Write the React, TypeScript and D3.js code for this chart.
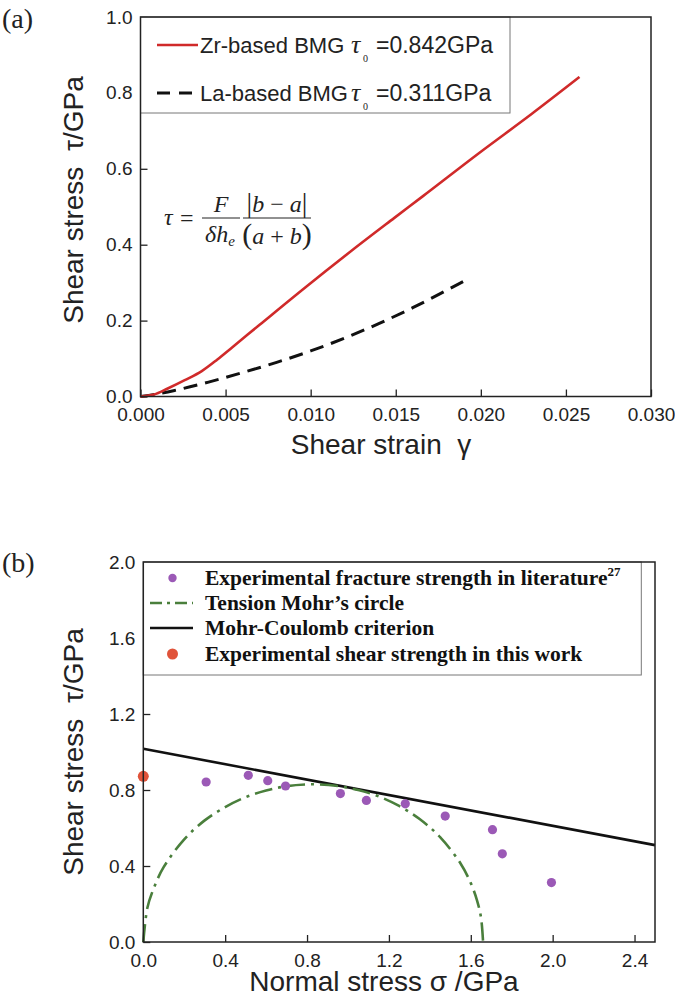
import React, { useEffect, useRef } from 'react';
import * as d3 from 'd3';

// ---- panel (a): shear stress vs shear strain ----
const zrCurve: [number, number][] = [
  [0, 0], [0.0008, 0.005], [0.0016, 0.021], [0.0026, 0.043], [0.0036, 0.067],
  [0.0045, 0.097], [0.0054, 0.13], [0.007, 0.189], [0.0097, 0.288], [0.0124, 0.384],
  [0.0149, 0.47], [0.0166, 0.528], [0.02, 0.645], [0.023, 0.745], [0.0258, 0.842],
];
const laCurve: [number, number][] = [
  [0, 0], [0.001, 0.007], [0.002, 0.016], [0.004, 0.038], [0.006, 0.063],
  [0.008, 0.09], [0.01, 0.12], [0.012, 0.154], [0.014, 0.192], [0.016, 0.234],
  [0.018, 0.28], [0.0193, 0.311],
];
const strainTicks = [0, 0.005, 0.01, 0.015, 0.02, 0.025, 0.03];
const stressTicksA = [0, 0.2, 0.4, 0.6, 0.8, 1.0];

// ---- panel (b): Mohr's circle and Mohr-Coulomb criterion ----
const literaturePts: [number, number][] = [
  [0.307, 0.842], [0.513, 0.877], [0.608, 0.849], [0.695, 0.821], [0.963, 0.781],
  [1.09, 0.745], [1.28, 0.727], [1.475, 0.663], [1.706, 0.591], [1.754, 0.464],
  [1.994, 0.313],
];
const thisWorkPts: [number, number][] = [[0, 0.872]];
const mohrCircle: [number, number][] = [
  [0, 0], [0.02, 0.18], [0.05, 0.28], [0.1, 0.395], [0.2, 0.54], [0.3, 0.64],
  [0.4, 0.71], [0.5, 0.762], [0.6, 0.797], [0.7, 0.82], [0.83, 0.83], [0.95, 0.821],
  [1.05, 0.8], [1.15, 0.766], [1.25, 0.716], [1.35, 0.647], [1.45, 0.552],
  [1.55, 0.413], [1.6, 0.31], [1.63, 0.221], [1.65, 0.128], [1.66, 0],
];
const mohrCoulomb: [number, number][] = [[0, 1.017], [2.5, 0.51]];
const normalTicks = [0, 0.4, 0.8, 1.2, 1.6, 2.0, 2.4];
const stressTicksB = [0, 0.4, 0.8, 1.2, 1.6, 2.0];

const SANS = 'Liberation Sans, Arial, sans-serif';
const SERIF = 'Liberation Serif, Times New Roman, serif';

export default function App() {
  const ref = useRef<SVGSVGElement>(null);

  useEffect(() => {
    const svg = d3.select(ref.current);
    svg.selectAll('*').remove();

    // draws inward ticks + labels, returns plot group
    function drawAxes(x, y, xt, yt, xfmt, yfmt) {
      const [x0] = x.range();
      const [y0] = y.range();
      const g = svg.append('g');
      const xa = g.append('g')
        .attr('transform', `translate(0,${y0})`)
        .call(d3.axisBottom(x).tickValues(xt).tickFormat(xfmt).tickSizeInner(-7).tickSizeOuter(0).tickPadding(11.5));
      const ya = g.append('g')
        .attr('transform', `translate(${x0},0)`)
        .call(d3.axisLeft(y).tickValues(yt).tickFormat(yfmt).tickSizeInner(-7).tickSizeOuter(0).tickPadding(8));
      [xa, ya].forEach(a => {
        a.select('.domain').remove();
        a.selectAll('line').attr('stroke', '#222').attr('stroke-width', 1.3);
        a.selectAll('text').attr('font-family', SANS).attr('font-size', 19).attr('fill', '#222');
      });
      return g;
    }
    function frame(g, x, y) {
      const [x0, x1] = x.range();
      const [y0, y1] = y.range();
      g.append('rect')
        .attr('x', x0).attr('y', y1).attr('width', x1 - x0).attr('height', y0 - y1)
        .attr('fill', 'none').attr('stroke', '#222').attr('stroke-width', 1.5);
    }

    // ================= panel (a) =================
    const xA = d3.scaleLinear().domain([0, 0.03]).range([140.5, 651]);
    const yA = d3.scaleLinear().domain([0, 1.0]).range([396.5, 17]);
    const gA = drawAxes(xA, yA, strainTicks, stressTicksA, d3.format('.3f'), d3.format('.1f'));

    const lineA = d3.line<[number, number]>().x(d => xA(d[0])).y(d => yA(d[1])).curve(d3.curveMonotoneX);
    gA.append('path').datum(laCurve).attr('d', lineA)
      .attr('fill', 'none').attr('stroke', '#111').attr('stroke-width', 3).attr('stroke-dasharray', '14 8');
    gA.append('path').datum(zrCurve).attr('d', lineA)
      .attr('fill', 'none').attr('stroke', '#d02a2a').attr('stroke-width', 2.6);

    // legend (a)
    const legA = gA.append('g');
    legA.append('rect').attr('x', 140.5).attr('y', 17).attr('width', 369.5).attr('height', 96)
      .attr('fill', '#fff').attr('stroke', '#777').attr('stroke-width', 1);
    frame(gA, xA, yA);
    const rowsA = [
      { y: 45, color: '#d02a2a', dash: null, name: 'Zr-based BMG', val: '=0.842GPa' },
      { y: 93, color: '#111', dash: '13 9', name: 'La-based BMG', val: '=0.311GPa' },
    ];
    rowsA.forEach(r => {
      legA.append('line').attr('x1', 157).attr('x2', 198).attr('y1', r.y).attr('y2', r.y)
        .attr('stroke', r.color).attr('stroke-width', r.dash ? 3 : 2.6)
        .attr('stroke-dasharray', r.dash);
      legA.append('text').attr('x', 200).attr('y', r.y + 8)
        .attr('font-family', SANS).attr('font-size', 22).attr('fill', '#222').text(r.name);
      legA.append('text').attr('x', 351).attr('y', r.y + 8)
        .attr('font-family', SERIF).attr('font-style', 'italic').attr('font-size', 26).attr('fill', '#222').text('τ');
      legA.append('text').attr('x', 363).attr('y', r.y + 17)
        .attr('font-family', SERIF).attr('font-size', 10).attr('fill', '#222').text('0');
      legA.append('text').attr('x', 376).attr('y', r.y + 8)
        .attr('font-family', SANS).attr('font-size', 23).attr('fill', '#222').text(r.val);
    });

    // formula
    const fm = gA.append('g').attr('font-family', SERIF).attr('font-size', 24).attr('fill', '#222');
    fm.append('text').attr('x', 164).attr('y', 225).attr('font-style', 'italic').text('τ');
    fm.append('text').attr('x', 180).attr('y', 226).text('=');
    fm.append('line').attr('x1', 202).attr('x2', 240).attr('y1', 218).attr('y2', 218).attr('stroke', '#222').attr('stroke-width', 1);
    fm.append('line').attr('x1', 243).attr('x2', 311).attr('y1', 218).attr('y2', 218).attr('stroke', '#222').attr('stroke-width', 1);
    fm.append('text').attr('x', 221).attr('y', 212).attr('text-anchor', 'middle').attr('font-style', 'italic').text('F');
    const den = fm.append('text').attr('x', 205).attr('y', 242).attr('font-style', 'italic');
    den.append('tspan').text('δh');
    den.append('tspan').attr('font-size', 15).attr('dy', 4).text('e');
    const num2 = fm.append('text').attr('x', 277).attr('y', 212).attr('text-anchor', 'middle');
    num2.append('tspan').attr('font-size', 28).text('|');
    num2.append('tspan').attr('font-style', 'italic').text('b');
    num2.append('tspan').text(' − ');
    num2.append('tspan').attr('font-style', 'italic').text('a');
    num2.append('tspan').attr('font-size', 28).text('|');
    const den2 = fm.append('text').attr('x', 277).attr('y', 244).attr('text-anchor', 'middle');
    den2.append('tspan').attr('font-size', 30).text('(');
    den2.append('tspan').attr('font-style', 'italic').text('a');
    den2.append('tspan').text(' + ');
    den2.append('tspan').attr('font-style', 'italic').text('b');
    den2.append('tspan').attr('font-size', 30).text(')');

    // ================= panel (b) =================
    const xB = d3.scaleLinear().domain([0, 2.5]).range([143.3, 655]);
    const yB = d3.scaleLinear().domain([0, 2.0]).range([942, 562]);
    const gB = drawAxes(xB, yB, normalTicks, stressTicksB, d3.format('.1f'), d3.format('.1f'));

    const lineB = d3.line<[number, number]>().x(d => xB(d[0])).y(d => yB(d[1]));
    gB.append('path').datum(mohrCoulomb).attr('d', lineB)
      .attr('fill', 'none').attr('stroke', '#111').attr('stroke-width', 2.6);
    gB.append('path').datum(mohrCircle).attr('d', lineB.curve(d3.curveCatmullRom))
      .attr('fill', 'none').attr('stroke', '#4a7f3c').attr('stroke-width', 2.6)
      .attr('stroke-dasharray', '18 6 3 6');
    gB.selectAll('.lit').data(literaturePts).join('circle')
      .attr('cx', d => xB(d[0])).attr('cy', d => yB(d[1])).attr('r', 4.6).attr('fill', '#9b59b6');
    gB.selectAll('.tw').data(thisWorkPts).join('circle')
      .attr('cx', d => xB(d[0])).attr('cy', d => yB(d[1])).attr('r', 5.5).attr('fill', '#e0533a');

    // legend (b)
    const legB = gB.append('g');
    legB.append('rect').attr('x', 143.3).attr('y', 562).attr('width', 498).attr('height', 113)
      .attr('fill', '#fff').attr('stroke', '#777').attr('stroke-width', 1);
    frame(gB, xB, yB);
    const rowsB = [
      { y: 578, kind: 'dot', color: '#9b59b6', label: 'Experimental fracture strength in literature', sup: '27' },
      { y: 603, kind: 'dashdot', color: '#4a7f3c', label: 'Tension Mohr’s circle' },
      { y: 628, kind: 'line', color: '#111', label: 'Mohr-Coulomb criterion' },
      { y: 654, kind: 'dot', color: '#e0533a', label: 'Experimental shear strength in this work' },
    ];
    rowsB.forEach((r, i) => {
      if (r.kind === 'dot') {
        legB.append('circle').attr('cx', 172.5).attr('cy', r.y).attr('r', i === 0 ? 4.2 : 5.5).attr('fill', r.color);
      } else {
        legB.append('line').attr('x1', 150).attr('x2', 193).attr('y1', r.y).attr('y2', r.y)
          .attr('stroke', r.color).attr('stroke-width', 2.6)
          .attr('stroke-dasharray', r.kind === 'dashdot' ? '12 5 3 5' : null);
      }
      const t = legB.append('text').attr('x', 205).attr('y', r.y + 7)
        .attr('font-family', SERIF).attr('font-weight', 'bold').attr('font-size', 21.5).attr('fill', '#111');
      t.append('tspan').text(r.label);
      if (r.sup) t.append('tspan').attr('font-size', 13).attr('dy', -9).text(r.sup);
    });

    // ---- titles ----
    const title = (x, y, txt, rot, size) => svg.append('text')
      .attr('transform', `translate(${x},${y}) rotate(${rot})`)
      .attr('text-anchor', 'middle').attr('font-family', SANS).attr('font-size', size).attr('fill', '#222')
      .attr('xml:space', 'preserve').text(txt);
    title(83, 200, 'Shear stress  τ/GPa', -90, 28);
    title(83, 752, 'Shear stress  τ/GPa', -90, 28);
    title(381, 454, 'Shear strain  γ', 0, 28);
    title(384, 991, 'Normal stress σ /GPa', 0, 28);

    svg.append('text').attr('x', 2).attr('y', 28).attr('font-family', SERIF).attr('font-size', 28).attr('fill', '#222').text('(a)');
    svg.append('text').attr('x', 2).attr('y', 572).attr('font-family', SERIF).attr('font-size', 28).attr('fill', '#222').text('(b)');
  }, []);

  return (
    <svg ref={ref} width={675} height={999}
      style={{ position: 'absolute', left: 0, top: 0, background: '#fff' }} />
  );
}
